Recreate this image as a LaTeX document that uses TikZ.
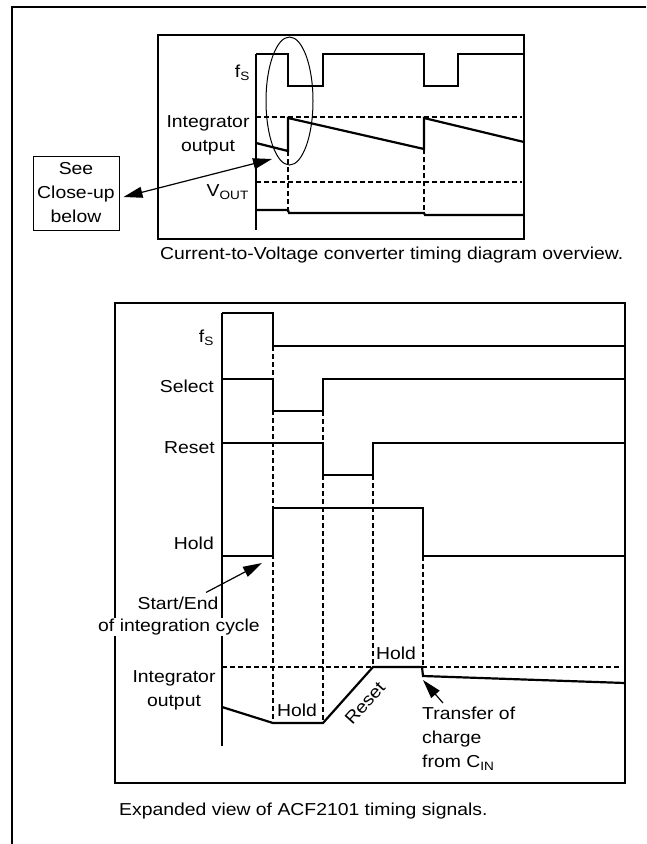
\documentclass[tikz,border=0pt]{standalone}
\usepackage{fontspec}
\setmainfont{Liberation Sans}[FakeStretch=1.12]
\usetikzlibrary{arrows.meta,shapes.geometric}
\begin{document}
\begin{tikzpicture}[x=1pt,y=-1pt,
  frame/.style={line width=2.5pt},
  panel/.style={line width=2.3pt},
  sig/.style={line width=2.2pt, line join=miter},
  axisline/.style={line width=1.1pt},
  dashline/.style={line width=1.1pt, dash pattern=on 4.5pt off 3.5pt},
  lbl/.style={font=\fontsize{17.3}{24}\selectfont, inner sep=1pt},
  arr/.style={line width=1.2pt, -{Triangle[length=19pt,width=11pt]}},
  dblarr/.style={line width=1.2pt, {Triangle[length=19pt,width=11pt]}-{Triangle[length=19pt,width=11pt]}},
]
\useasboundingbox (0,0) rectangle (646,844);
% outer frame (top and left only)
\draw[frame] (12,844) -- (12,7) -- (646,7);

% ---------- top panel ----------
\draw[panel] (158,35) rectangle (524,239);
\draw[axisline] (256,54) -- (256,230);
% f_S
\draw[sig] (256,54) -- (288,54) -- (288,86) -- (323,86) -- (323,54) -- (424,54) -- (424,86) -- (458,86) -- (458,54) -- (524,54);
% integrator
\draw[dashline] (256,117) -- (522,117);
\draw[sig] (256,143) -- (288,151) -- (288,118) -- (424,149) -- (424,118) -- (524,142);
% Vout
\draw[dashline] (256,182) -- (522,182);
\draw[sig] (256,210) -- (288,210) -- (289,213) -- (424,213) -- (425,215) -- (524,215);
% dashed verticals
\draw[dashline] (288,151) -- (288,212);
\draw[dashline] (424,149) -- (424,213);
% ellipse
\node[ellipse, draw, line width=1pt, minimum width=47pt, minimum height=128pt, inner sep=0pt] (ell) at (289.5,101) {};
\coordinate (ctip) at (272,159);
% labels
\node[lbl, anchor=east] (fsT) at (251,73) {f\textsubscript{S}};
\node[lbl, align=center] (intT) at (208,135) {Integrator\\output};
\node[lbl, anchor=east] (voutT) at (250,192) {V\textsubscript{OUT}};
% close-up box
\node[lbl, draw, line width=1pt, minimum width=86pt, minimum height=74pt, align=center] (see) at (76,193) {See\\Close-up\\below};
\draw[dblarr] ([xshift=4pt,yshift=-4pt]see.east) -- (ctip);
% caption
\node[lbl, anchor=west] (capT) at (159,255) {Current-to-Voltage converter timing diagram overview.};

% ---------- bottom panel ----------
\draw[panel] (115,303) rectangle (625,783);
\draw[axisline] (222,313) -- (222,746);
% f_S
\draw[sig] (222,313) -- (273,313) -- (273,346) -- (625,346);
% Select
\draw[sig] (222,379) -- (273,379) -- (273,411) -- (323,411) -- (323,379) -- (625,379);
% Reset
\draw[sig] (222,443) -- (323,443) -- (323,475) -- (373,475) -- (373,443) -- (625,443);
% Hold
\draw[sig] (222,556) -- (273,556) -- (273,508) -- (423,508) -- (423,556) -- (625,556);
% dashed verticals
\draw[dashline] (273,346) -- (273,722);
\draw[dashline] (323,411) -- (323,722);
\draw[dashline] (373,475) -- (373,666);
\draw[dashline] (423,556) -- (423,666);
% integrator
\draw[dashline] (222,667) -- (620,667);
\draw[sig] (222,707) -- (273,723) -- (323,723) -- (373,667) -- (422,667) -- (423,676) -- (625,683);
% labels
\node[lbl, anchor=east] (fsB) at (215,338) {f\textsubscript{S}};
\node[lbl, anchor=east] (selB) at (215,386) {Select};
\node[lbl, anchor=east] (resB) at (216,448) {Reset};
\node[lbl, anchor=east] (holdB) at (215,543) {Hold};
\node[lbl, align=center] (intB) at (174,690) {Integrator\\output};
\node[lbl] (hold1) at (297,710) {Hold};
\node[lbl] (hold2) at (396,653) {Hold};
\node[lbl, rotate=48] (resR) at (365,703) {Reset};
% start/end
\node[lbl] (st) at (178,603) {Start/End};
\node[lbl, fill=white, inner sep=0.5pt] (st2) at (179,627) {of integration cycle};
\coordinate (htip) at (262,563);
\draw[arr] ([xshift=28pt,yshift=3pt]st.north) -- (htip);
% transfer
\node[lbl, align=left, anchor=north west] (tr) at (421,706) {Transfer of\\charge\\from C\textsubscript{IN}};
\coordinate (ttip) at (423,680);
\draw[arr] ([xshift=22pt,yshift=3pt]tr.north west) -- (ttip);
% caption
\node[lbl, anchor=west] (capB) at (118,811) {Expanded view of ACF2101 timing signals.};
\end{tikzpicture}
\end{document}
